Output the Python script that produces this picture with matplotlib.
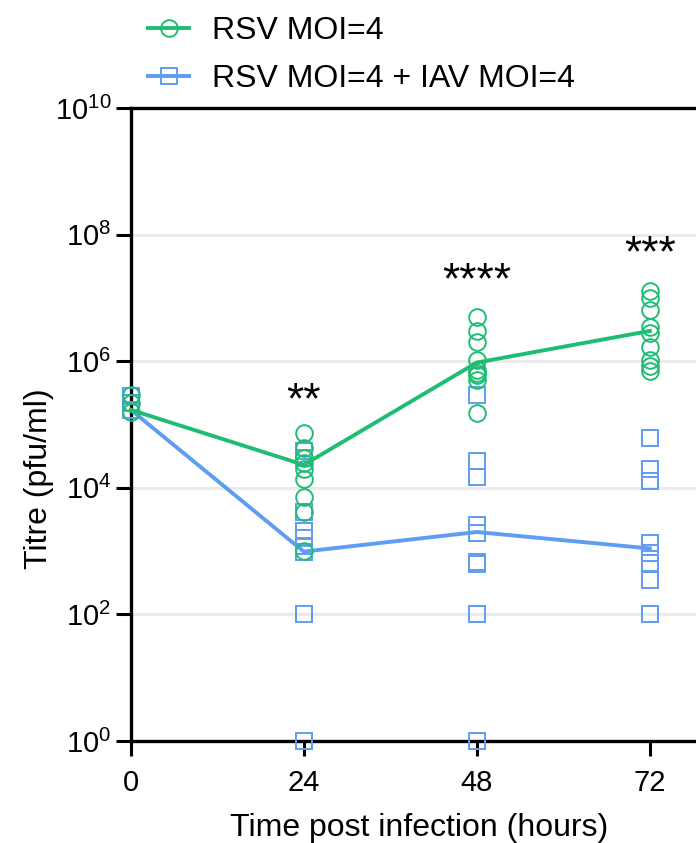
import numpy as np
import matplotlib
matplotlib.use("Agg")
import matplotlib.pyplot as plt

plt.rcParams['font.family'] = ['Liberation Sans', 'DejaVu Sans']
plt.rcParams['mathtext.fontset'] = 'custom'
plt.rcParams['mathtext.rm'] = 'Liberation Sans'
plt.rcParams['mathtext.it'] = 'Liberation Sans'

# time points (hours post infection)
hours = [0, 24, 48, 72]

# RSV MOI=4 individual titres (pfu/ml)
rsv_0 = [2.95e5, 2.2e5, 1.6e5]
rsv_24 = [7.2e4, 4.3e4, 2.95e4, 2.45e4, 2.0e4, 1.4e4, 7.2e3, 4.1e3, 1.0e3]
rsv_48 = [5.0e6, 3.0e6, 2.0e6, 1.05e6, 7.2e5, 6.6e5, 6.0e5, 5.0e5, 1.5e5]
rsv_72 = [1.26e7, 1.0e7, 6.5e6, 3.5e6, 2.8e6, 1.7e6, 1.05e6, 8.5e5, 7.0e5]

# RSV MOI=4 + IAV MOI=4 individual titres (pfu/ml)
coinf_0 = [2.8e5, 2.2e5, 1.7e5]
coinf_24 = [3.8e4, 2.9e4, 4.1e3, 2.1e3, 1.6e3, 1.2e3, 9.5e2, 1e2, 1]
coinf_48 = [2.95e5, 2.6e4, 1.5e4, 2.6e3, 1.9e3, 6.8e2, 6.3e2, 1e2, 1]
coinf_72 = [6.0e4, 2.0e4, 1.3e4, 1.35e3, 9.3e2, 6.5e2, 3.5e2, 1e2]

# summary line values
rsv_mean = [1.7e5, 2.3e4, 9.5e5, 3.0e6]
coinf_mean = [1.7e5, 9.8e2, 2.0e3, 1.1e3]

# significance labels and their heights
sig_labels = ['**', '****', '***']
sig_hours = [24, 48, 72]
sig_y = [2.3e5, 1.8e7, 4.8e7]

green = '#1DBE74'
blue = '#5E9DF2'

fig = plt.figure(figsize=(6.96, 8.43), dpi=100)
ax = fig.add_axes([0.188, 0.121, 0.870, 0.751])

for h, vals in zip(hours, [coinf_0, coinf_24, coinf_48, coinf_72]):
    ax.plot([h] * len(vals), vals, ls='none', marker='s', ms=11, mfc='none',
            mec=blue, mew=1.4, clip_on=False, zorder=4)
ax.plot(hours, coinf_mean, color=blue, lw=2.8, clip_on=False, zorder=5)

for h, vals in zip(hours, [rsv_0, rsv_24, rsv_48, rsv_72]):
    ax.plot([h] * len(vals), vals, ls='none', marker='o', ms=12, mfc='none',
            mec=green, mew=1.4, clip_on=False, zorder=6)
ax.plot(hours, rsv_mean, color=green, lw=2.8, clip_on=False, zorder=7)

for h, lab, y in zip(sig_hours, sig_labels, sig_y):
    ax.text(h, y, lab, ha='center', va='center', fontsize=32)

ax.set_yscale('log')
ax.set_ylim(1, 1e10)
ax.set_xlim(0, 84)
yt = [10.0 ** k for k in range(0, 11, 2)]
ax.set_yticks(yt)
ax.set_yticklabels(['$10^{%d}$' % k for k in range(0, 11, 2)], fontsize=21)
ax.yaxis.set_minor_locator(matplotlib.ticker.NullLocator())
ax.set_xticks(hours)
ax.set_xticklabels([str(h) for h in hours], fontsize=21)
ax.tick_params(axis='both', direction='out', length=11, width=2.2)
ax.tick_params(axis='x', pad=9)
ax.tick_params(axis='y', pad=3)

for k in range(2, 10, 2):
    ax.axhline(10.0 ** k, color='#EBEBEB', lw=2.2, zorder=0)

for s in ['left', 'bottom', 'top']:
    ax.spines[s].set_linewidth(2.4)
ax.spines['right'].set_visible(False)

ax.set_xlabel('Time post infection (hours)', fontsize=23)
ax.xaxis.set_label_coords(0.476, -0.113)
ax.set_ylabel('Titre (pfu/ml)', fontsize=23)
ax.yaxis.set_label_coords(-0.127, 0.415)

h1 = plt.Line2D([], [], color=green, lw=2.8, marker='o', ms=12, mfc='none', mec=green, mew=1.4)
h2 = plt.Line2D([], [], color=blue, lw=2.8, marker='s', ms=11, mfc='none', mec=blue, mew=1.4)
fig.legend([h1, h2], ['RSV MOI=4', 'RSV MOI=4 + IAV MOI=4'], loc='upper left',
           bbox_to_anchor=(0.194, 0.996), borderaxespad=0, frameon=False, fontsize=23,
           handlelength=1.3, labelspacing=0.55, handletextpad=0.72)

fig.savefig('out.png', dpi=100)
